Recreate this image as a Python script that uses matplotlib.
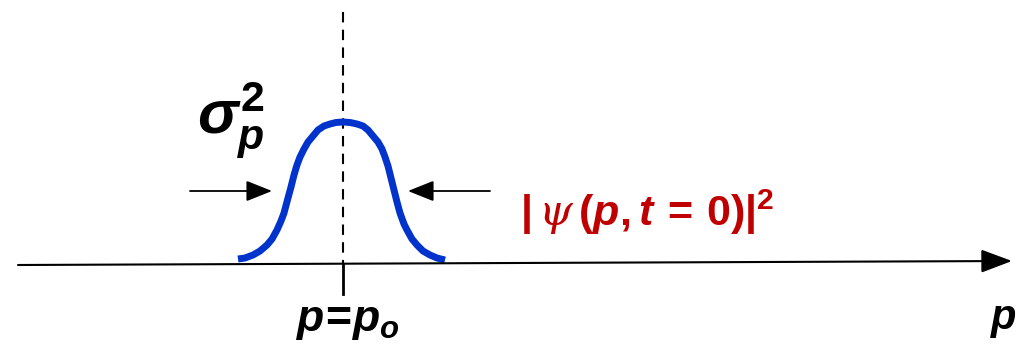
import matplotlib.pyplot as plt

plt.rcParams['mathtext.fontset'] = 'custom'
plt.rcParams['mathtext.it'] = 'Liberation Sans:bold:italic'
plt.rcParams['mathtext.rm'] = 'Liberation Sans:bold'
plt.rcParams['mathtext.bf'] = 'Liberation Sans:bold'
plt.rcParams['mathtext.sf'] = 'DejaVu Serif:italic'

# curve of |psi(p,t=0)|^2 (pixel coords, y down)
curve_x = [238, 245, 253, 260, 267, 272, 277, 281, 284, 288, 291, 294, 297,
           300, 304, 308, 313, 318, 324, 330, 336, 343,
           350, 357, 363, 368, 373, 378, 382, 385, 388, 391, 394, 397, 400,
           404, 407, 412, 417, 423, 430, 437, 445]
curve_y = [259, 258, 255, 251, 245, 239, 230, 221, 213, 198, 187, 175, 165,
           157, 149, 142, 136, 130, 126, 124, 122.5, 122,
           122.5, 124, 126, 130, 136, 142, 149, 157, 166, 178, 190, 202, 213,
           224, 230, 239, 245, 251, 255, 258, 260]
p0 = 343
axis_y = [265, 261]
axis_x = [18, 1012]

fig = plt.figure(figsize=(10.36, 3.47), dpi=100)
ax = fig.add_axes([0, 0, 1, 1])
ax.set_xlim(0, 1036)
ax.set_ylim(347, 0)
ax.axis('off')

# p axis
ax.annotate('', xy=(axis_x[1], axis_y[1]), xytext=(axis_x[0], axis_y[0]),
            arrowprops=dict(arrowstyle='-|>,head_length=1.2,head_width=0.45',
                            lw=1.5, color='black', shrinkA=0, shrinkB=0,
                            mutation_scale=16))
# tick and dashed centre line
ax.plot([p0, p0], [264, 294], color='black', lw=2)
ax.plot([p0, p0], [12, 264], color='black', lw=1.5, ls=(0, (5, 3.5)))

# wave packet
ax.plot(curve_x, curve_y, color='#0033cc', lw=5, solid_capstyle='butt',
        solid_joinstyle='round')

# width arrows
for x0, x1 in [(190, 272), (490, 408)]:
    ax.annotate('', xy=(x1, 191), xytext=(x0, 191),
                arrowprops=dict(arrowstyle='-|>,head_length=1.0,head_width=0.4',
                                lw=1.3, color='black', shrinkA=0, shrinkB=0,
                                mutation_scale=16))

ax.text(197, 134, r'$\sigma_p^2$', fontsize=44, ha='left', va='baseline')
ax.text(520, 226, r'$|\,\mathsf{\psi}\,(p,t\,=\,0)|^2$', fontsize=31,
        color='#c00000', ha='left', va='baseline')
ax.text(348, 331, r'$p\!=\!p_o$', fontsize=32, ha='center', va='baseline')
ax.text(1004, 329, r'$p$', fontsize=30, ha='center', va='baseline')

fig.savefig('out.png', dpi=100)
